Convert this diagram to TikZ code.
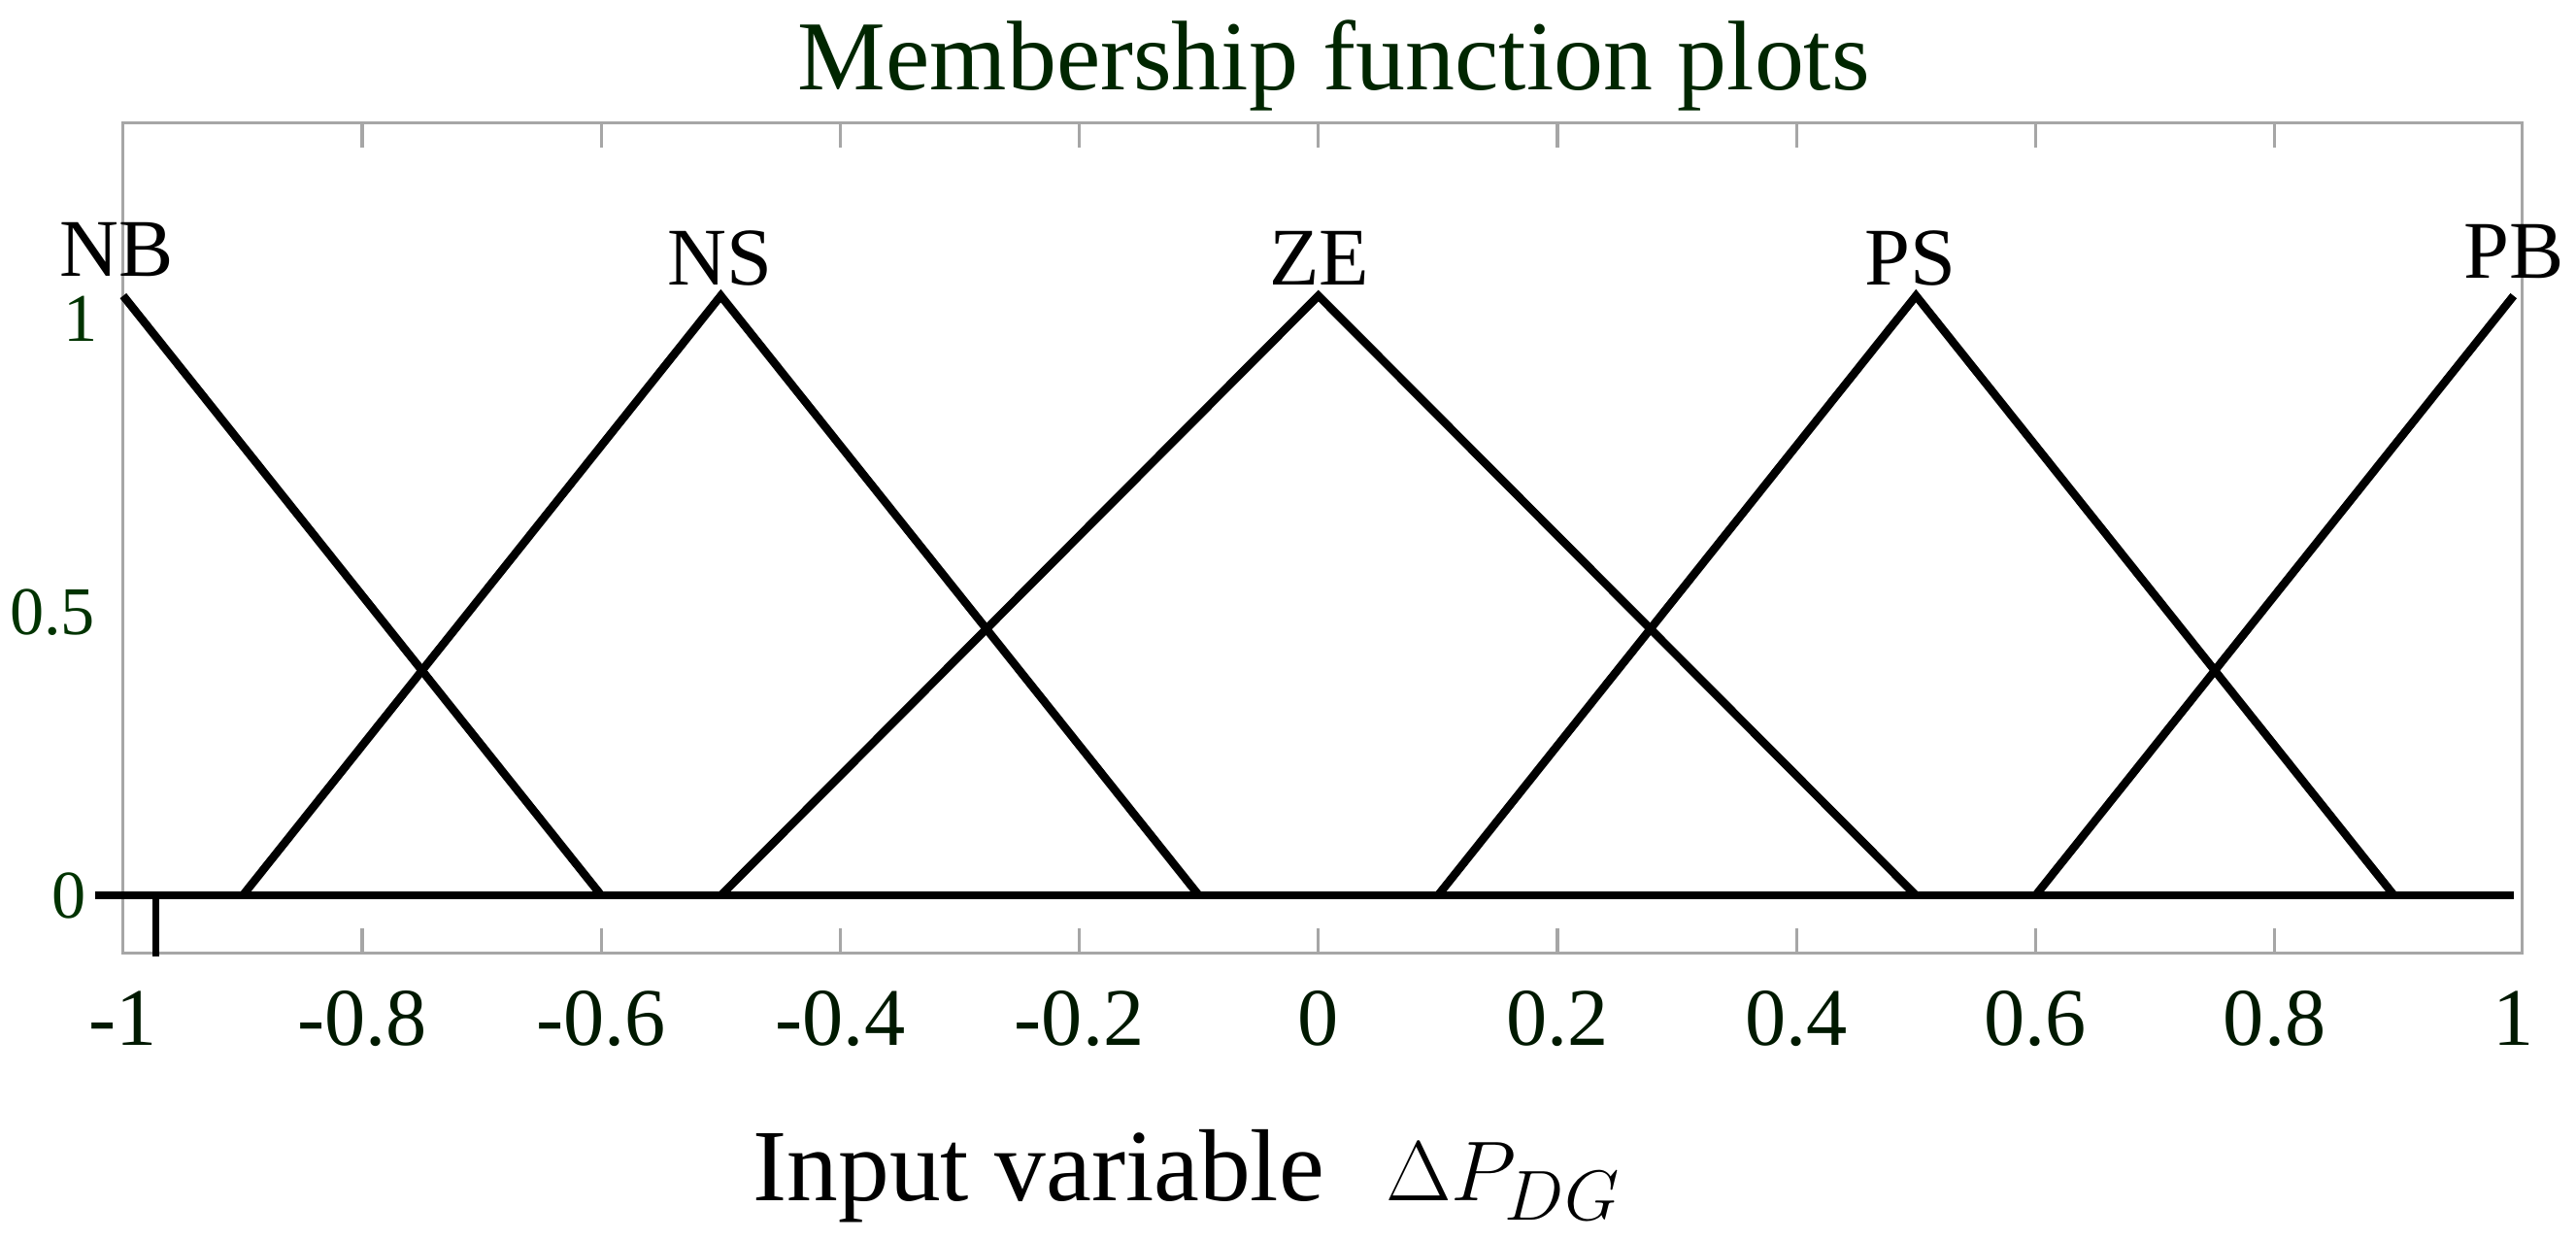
\documentclass[tikz,border=0pt]{standalone}
\usepackage{fontspec}
\setmainfont{Liberation Serif}
\begin{document}
\begin{tikzpicture}[x=0.01692cm,y=-0.01692cm,
  mf/.style={line width=2.4pt,line join=miter,black},
  frame/.style={draw=gray!70,line width=0.9pt},
  tick/.style={font=\fontsize{24}{24}\selectfont,text=green!10!black},
  ylab/.style={font=\fontsize{20}{20}\selectfont,text=green!20!black,inner sep=1pt},
  mflab/.style={font=\fontsize{24}{24}\selectfont,inner sep=0pt}]
\useasboundingbox (0,0) rectangle (1568,755);
\def\X#1{802.5+727.5*#1}
\node[font=\fontsize{29}{29}\selectfont,text=green!15!black] (title) at (812,40) {Membership function plots};
\draw[frame] (75,75) rectangle (1535,580);
\foreach \v in {-0.8,-0.6,-0.4,-0.2,0,0.2,0.4,0.6,0.8}{
  \draw[frame] ({\X{\v}},75) -- ({\X{\v}},90);
  \draw[frame] ({\X{\v}},580) -- ({\X{\v}},565);
}
% membership functions
\coordinate (b0) at (58,545);
\coordinate (b1) at ({\X{1}},545);
\draw[mf] (b0) -- (b1);
\draw[line width=2pt] (95,545) -- (95,582);
\draw[mf] ({\X{-1}},180) -- ({\X{-0.6}},545);
\draw[mf] ({\X{-0.9}},545) -- ({\X{-0.5}},180) -- ({\X{-0.1}},545);
\draw[mf] ({\X{-0.5}},545) -- ({\X{0}},180) -- ({\X{0.5}},545);
\draw[mf] ({\X{0.1}},545) -- ({\X{0.5}},180) -- ({\X{0.9}},545);
\draw[mf] ({\X{0.6}},545) -- ({\X{1}},180);
% labels
\node[mflab] (nb) at (71,152) {NB};
\node[mflab] (ns) at (438,157) {NS};
\node[mflab] (ze) at (803,157) {ZE};
\node[mflab] (ps) at (1163,157) {PS};
\node[mflab] (pb) at (1530,153) {PB};
\node[ylab] (y1) at (49,194) {1};
\node[ylab] (y05) at (32,373) {0.5};
\node[ylab] (y0) at (42,545) {0};
\foreach \v/\t in {-1/-1,-0.8/-0.8,-0.6/-0.6,-0.4/-0.4,-0.2/-0.2,0/0,0.2/0.2,0.4/0.4,0.6/0.6,0.8/0.8,1/1}{
  \node[tick] at ({\X{\v}},620) {\t};
}
\node[font=\fontsize{30}{30}\selectfont,anchor=west,inner sep=0pt] (xl) at (458,716) {Input variable\hspace{0.6em}$\Delta P_{DG}$};
\end{tikzpicture}
\end{document}
